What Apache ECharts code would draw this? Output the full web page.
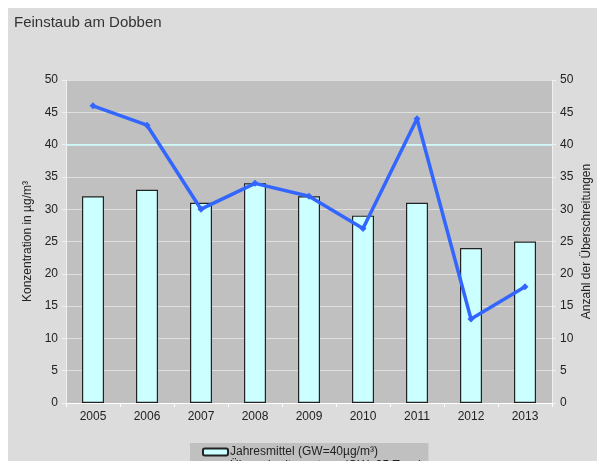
<!DOCTYPE html>
<html>
<head>
<meta charset="utf-8">
<script src="https://cdn.jsdelivr.net/npm/echarts@6/dist/echarts.min.js"></script>
<style>
    html, body {margin: 0; padding: 0; background: #fff;}
    .bg {position: absolute; left: 8px; top: 8px; width: 589px; height: 453px; background: #dcdcdc;}
    .feinstaubChart {position: absolute; left: 0; top: 0; width: 597px; height: 461px;}
</style>
</head>
<body>
<div class="bg"></div>
<div class="feinstaubChart"></div>
<script>
var years = ['2005', '2006', '2007', '2008', '2009', '2010', '2011', '2012', '2013'];
var jahresmittel = [32, 33, 31, 34, 32, 29, 31, 24, 25];
var ueberschreitungstage = [46, 43, 30, 34, 32, 27, 44, 13, 18];
var grenzwert = 40;

var $chart = document.querySelector('.feinstaubChart');
var chart = echarts.init($chart);
var labelStyle = {color: '#222', fontSize: 12, fontFamily: 'Liberation Sans'};
var option = {
    animation: false,
    backgroundColor: 'transparent',
    title: {
        text: 'Feinstaub am Dobben',
        left: 9,
        top: 10,
        textStyle: {color: '#333', fontSize: 15, fontWeight: 'normal', fontFamily: 'Liberation Sans'}
    },
    grid: {
        left: 66,
        right: 45,
        top: 80,
        bottom: 58,
        outerBoundsMode: 'none',
        show: true,
        backgroundColor: '#c0c0c0',
        borderWidth: 0
    },
    legend: {
        orient: 'vertical',
        left: 190,
        top: 443,
        height: 60,
        backgroundColor: '#c0c0c0',
        padding: [3, 6, 3, 12],
        itemGap: 2,
        itemWidth: 25,
        itemHeight: 7,
        selectedMode: false,
        textStyle: {color: '#222', fontSize: 12, fontFamily: 'Liberation Sans', padding: [0, 0, 0, -3]},
        data: [{name: 'Jahresmittel (GW=40µg/m³)'}, {name: 'Überschreitungstage (GW=35 Tage)'}]
    },
    xAxis: {
        type: 'category',
        data: years,
        axisLine: {show: true, lineStyle: {color: '#fff', width: 1}},
        axisTick: {show: true, length: 4, lineStyle: {color: '#fff'}},
        axisLabel: labelStyle,
        splitLine: {show: false}
    },
    yAxis: [{
        type: 'value',
        min: 0,
        max: 50,
        interval: 5,
        name: 'Konzentration in µg/m³',
        nameLocation: 'middle',
        nameRotate: 90,
        nameGap: 30,
        nameTextStyle: {color: '#222', fontSize: 12, fontFamily: 'Liberation Sans'},
        axisLine: {show: true, lineStyle: {color: '#f0f0f0'}},
        axisTick: {show: true, length: 4, lineStyle: {color: '#f0f0f0'}},
        axisLabel: labelStyle,
        splitLine: {show: true, lineStyle: {color: '#e0e0e0', width: 1}}
    }, {
        type: 'value',
        min: 0,
        max: 50,
        interval: 5,
        position: 'right',
        name: 'Anzahl der Überschreitungen',
        nameLocation: 'middle',
        nameRotate: 90,
        nameGap: 29,
        nameMoveOverlap: false,
        nameTextStyle: {color: '#222', fontSize: 12, fontFamily: 'Liberation Sans'},
        axisLine: {show: true, lineStyle: {color: '#f0f0f0'}},
        axisTick: {show: true, length: 4, lineStyle: {color: '#f0f0f0'}},
        axisLabel: labelStyle,
        splitLine: {show: false}
    }],
    series: [{
        name: 'Jahresmittel (GW=40µg/m³)',
        type: 'bar',
        data: jahresmittel,
        barWidth: 22,
        itemStyle: {color: '#ccffff', borderColor: '#222', borderWidth: 1.2},
        markLine: {
            silent: true,
            symbol: 'none',
            label: {show: false},
            lineStyle: {color: '#ccffff', type: 'solid', width: 1.5},
            data: [{yAxis: grenzwert}]
        }
    }, {
        name: 'Überschreitungstage (GW=35 Tage)',
        type: 'line',
        yAxisIndex: 1,
        data: ueberschreitungstage,
        symbol: 'diamond',
        symbolSize: 7,
        lineStyle: {color: '#3366ff', width: 3.5},
        itemStyle: {color: '#3366ff'},
        z: 5
    }]
};
chart.setOption(option);
</script>
</body>
</html>
